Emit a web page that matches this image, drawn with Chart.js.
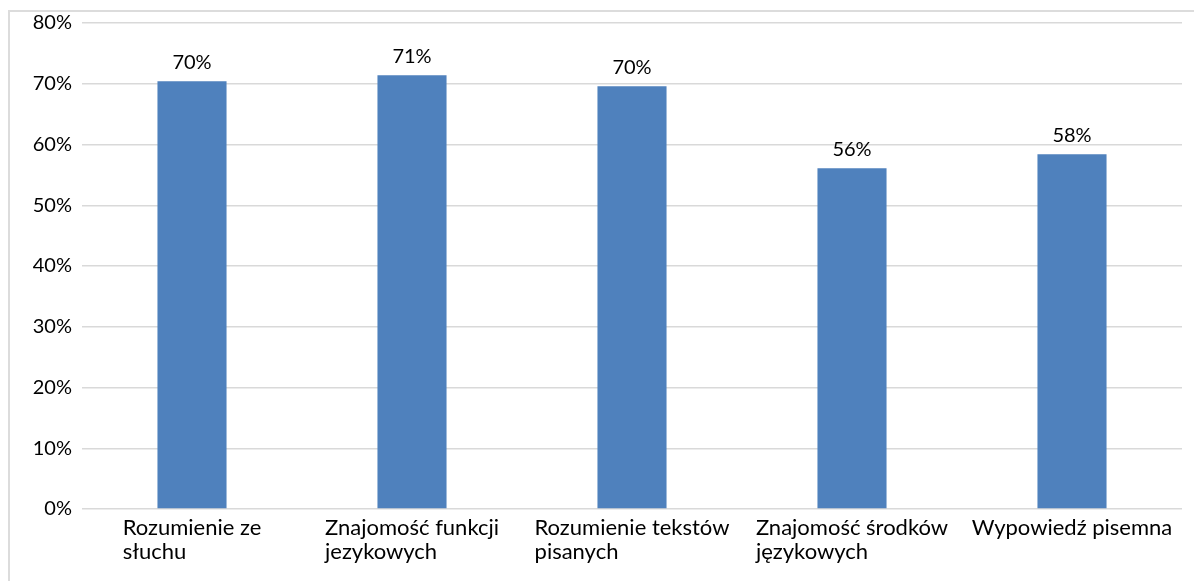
<!DOCTYPE html>
<html>
<head>
<meta charset="utf-8">
<script src="https://cdn.jsdelivr.net/npm/chart.js@4.4.0/dist/chart.umd.min.js"></script>
<style>
  html, body { margin: 0; padding: 0; background: #fff; overflow: hidden; }
  #frame { position: absolute; left: 8px; top: 10px; width: 1200px; height: 600px; border: 2px solid #dcdcdc; box-sizing: border-box; }
  #wrap { position: absolute; left: 0; top: 0; width: 1194px; height: 581px; }
</style>
</head>
<body>
<div id="frame"></div>
<div id="wrap"><canvas id="chart"></canvas></div>
<script>
// categories (each entry = wrapped lines as in the original)
const categories = [
  ['Rozumienie ze', 'słuchu'],
  ['Znajomość funkcji', 'jezykowych'],
  ['Rozumienie tekstów', 'pisanych'],
  ['Znajomość środków', 'językowych'],
  ['Wypowiedź pisemna']
];
// percent results
const values = [70.4, 71.4, 69.6, 56.1, 58.4];
const yMax = 80;
const yStep = 10;

const FONT = '20px Lato';
const XFONT = '22px Lato';
const TEXT = '#000';

// value labels above the bars
const barLabels = {
  id: 'barLabels',
  afterDatasetsDraw(chart) {
    const c = chart.ctx;
    c.save();
    c.font = FONT;
    c.fillStyle = TEXT;
    c.textAlign = 'center';
    c.textBaseline = 'alphabetic';
    chart.getDatasetMeta(0).data.forEach((bar, i) => {
      c.fillText(Math.round(values[i]) + '%', bar.x, bar.y - 12);
    });
    c.restore();
  }
};

// x labels: block centred under the category, lines left aligned
const xLabels = {
  id: 'xLabels',
  afterDraw(chart) {
    const c = chart.ctx;
    const xs = chart.scales.x;
    const top = chart.chartArea.bottom;
    c.save();
    c.font = XFONT;
    c.fillStyle = TEXT;
    c.textAlign = 'left';
    c.textBaseline = 'alphabetic';
    categories.forEach((lines, i) => {
      const xc = xs.getPixelForValue(i);
      const w = Math.max(...lines.map(l => c.measureText(l).width));
      lines.forEach((l, j) => {
        c.fillText(l, xc - w / 2, top + 26 + j * 24);
      });
    });
    c.restore();
  }
};

new Chart(document.getElementById('chart'), {
  type: 'bar',
  data: {
    labels: categories,
    datasets: [{
      data: values,
      backgroundColor: '#4F81BD',
      barPercentage: 0.314,
      categoryPercentage: 1
    }]
  },
  options: {
    responsive: true,
    maintainAspectRatio: false,
    animation: false,
    layout: { padding: { top: 23, right: 12, left: 0, bottom: 0 } },
    plugins: {
      legend: { display: false },
      tooltip: { enabled: false }
    },
    scales: {
      x: {
        grid: { display: false },
        border: { display: false },
        ticks: { display: false },
        afterFit(scale) { scale.height = 72; }
      },
      y: {
        min: 0,
        max: yMax,
        ticks: {
          stepSize: yStep,
          color: TEXT,
          font: { family: 'Lato', size: 20 },
          padding: 10,
          callback: v => v + '%'
        },
        grid: { color: '#d9d9d9', lineWidth: 1.5, drawTicks: false },
        border: { display: false },
        afterFit(scale) { scale.width = 82; }
      }
    }
  },
  plugins: [barLabels, xLabels]
});
</script>
</body>
</html>
